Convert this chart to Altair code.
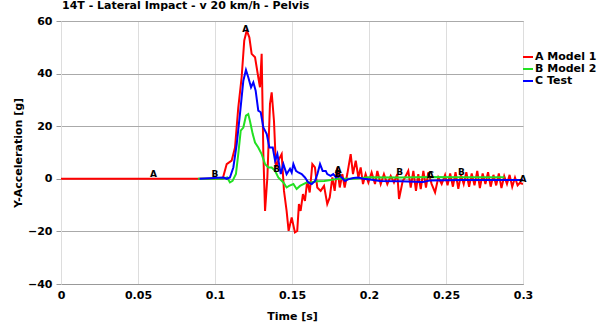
import altair as alt
import numpy as np
import pandas as pd

# Model 1 (red)
m1_t = [0, 0.06, 0.105, 0.1076, 0.1108, 0.113, 0.1151, 0.1173, 0.119, 0.1206, 0.1223, 0.1238, 0.126,
        0.1281, 0.1292, 0.1303, 0.1314, 0.1325, 0.134, 0.1357, 0.1368, 0.1383, 0.1396, 0.1411, 0.1433,
        0.1448, 0.1465, 0.1478, 0.1498, 0.1519, 0.1534, 0.1545, 0.1556, 0.1571, 0.1584, 0.1599, 0.1615,
        0.1632, 0.1649, 0.1664, 0.1686, 0.1708, 0.1729, 0.1745, 0.1762, 0.1777, 0.1794, 0.181, 0.1827,
        0.1842, 0.1859, 0.1881, 0.1896, 0.1914, 0.1931, 0.1946, 0.1961, 0.1978, 0.1996, 0.2017, 0.2039,
        0.2054, 0.2076, 0.2097, 0.2119, 0.2141, 0.2162, 0.2184, 0.2195, 0.2219, 0.2234, 0.2255, 0.2271,
        0.2288, 0.2305, 0.232, 0.2336, 0.2353, 0.237, 0.2385, 0.2407, 0.2429, 0.245, 0.2472, 0.2494,
        0.251, 0.2527, 0.2545, 0.2562, 0.258, 0.2597, 0.2615, 0.2632, 0.265, 0.2667, 0.2685, 0.2703,
        0.272, 0.2738, 0.2756, 0.2773, 0.279, 0.2808, 0.2826, 0.2843, 0.286, 0.2878, 0.2896, 0.2913,
        0.293, 0.2948, 0.2965, 0.298, 0.3]
m1_y = [0, 0, 0, 5.6, 6.9, 11.9, 27, 38.6, 52.6, 56.4, 53.8, 47.5, 46.2,
        38.6, 34.8, 47.5, 9.4, -12.2, 0.5, 28.4, 32.9, 22, 4.3, 6.9, 9.4,
        -4.6, -12.2, -19.8, -14.7, -20.4, -19.8, -9.6, -12.2, -5.8, -8.4, -0.8, -5.2,
        5.6, 4.3, -3.3, -4.6, -2.7, -9.6, -7.1, 0.5, -4.6, 4.3, -3.3, 1.8,
        -3.3, 1.8, 9.4, 1.8, 6.9, 0.5, 4.3, -2, 1.8, -1.4, 2.4, -2,
        3, -2, 1.8, -2, 1.1, -1.4, 1.8, -7.7, -0.8, 0.5, 3, -3.3,
        3, -4.6, 1.8, -3.9, 3, -3.3, 2.4, -2, -5.2, 0.5, -2, 1.5,
        -2.5, 2, -3, 2.5, -3.8, 1.5, -2, 2.5, -3, 2, -2.5, 3,
        -3.5, 2, -2, 2.5, -3, 1.5, -2.5, 2, -3.5, 1, -2, 1.5,
        -3, 0.5, -2.5, -1.5, -2]

# Model 2 (green)
m2_t = [0.089, 0.105, 0.1079, 0.1097, 0.1114, 0.1136, 0.1151, 0.1167, 0.1184, 0.1201, 0.1216, 0.1227,
        0.1245, 0.126, 0.1281, 0.1303, 0.1325, 0.1346, 0.1368, 0.139, 0.1411, 0.1444, 0.1465, 0.1481,
        0.1509, 0.153, 0.1552, 0.1574, 0.1595, 0.1623, 0.1661, 0.171, 0.18, 0.19, 0.2, 0.22, 0.24,
        0.26, 0.288]
m2_y = [0, 0, 0.5, -1.4, -0.8, 1.8, 9.4, 18.3, 19.5, 24, 24.6, 22,
        17, 13.8, 11.9, 9.4, 5.6, 4.3, 4.3, 3, 0.5, -1.4, -3.3, -2.7,
        -2, -3.9, -2.7, -2, -1.4, -1.4, -0.9, -0.8, 0, 0, 0.6, 0.5, 0.7,
        0.6, 0.6]

# Test (blue)
te_t = [0.09, 0.1054, 0.1076, 0.1097, 0.1119, 0.1141, 0.1162, 0.1184, 0.1201, 0.1216, 0.1234, 0.1249,
        0.1264, 0.1281, 0.1297, 0.1314, 0.1336, 0.1353, 0.1375, 0.139, 0.1405, 0.1427, 0.1444, 0.1465,
        0.1487, 0.1498, 0.1509, 0.1526, 0.1541, 0.1563, 0.1584, 0.1606, 0.1628, 0.165, 0.1665, 0.1682,
        0.1699, 0.1719, 0.1729, 0.1751, 0.1768, 0.1786, 0.1807, 0.1823, 0.1844, 0.1864, 0.1898, 0.1931,
        0.1963, 0.2006, 0.2071, 0.22, 0.235, 0.24, 0.26, 0.3]
te_y = [0, 0.5, 0, 0.5, 4.3, 13.2, 24.6, 37.3, 41.4, 38.6, 34.8, 36.7,
        33.5, 25.9, 25.3, 19.5, 17, 11.9, 11.9, 6.9, 9.4, 1.8, 5.6, 1.8,
        3.8, 2.4, 5.6, 3, 2.4, 1.8, 0.5, -1.4, -2, -0.8, 1.8, 5.6,
        3, 3, 1.8, 1.1, 1.8, 0.5, 1.1, 0.5, -0.8, -0.2, 0.3, 0.5,
        0, -0.3, -0.8, -0.9, -1.2, -0.6, -0.5, -0.5]

series_names = ["A Model 1", "B Model 2", "C Test"]
series_colors = ["#ff0000", "#22e022", "#0000ff"]

# label marker times per series
label_a_t = [0.06, 0.12, 0.18, 0.24, 0.3]
label_b_t = [0.1, 0.14, 0.18, 0.22, 0.26]
label_c_t = [0.24]

frames = []
for name, t, y, order in [(series_names[0], m1_t, m1_y, 0),
                          (series_names[1], m2_t, m2_y, 1),
                          (series_names[2], te_t, te_y, 2)]:
    frames.append(pd.DataFrame({"t": t, "y": y, "series": name, "ord": order}))
df = pd.concat(frames, ignore_index=True)

lab_rows = []
for letter, times, t, y in [("A", label_a_t, m1_t, m1_y), ("B", label_b_t, m2_t, m2_y), ("C", label_c_t, te_t, te_y)]:
    for tt in times:
        lab_rows.append({"t": tt, "y": float(np.interp(tt, t, y)), "letter": letter})
labels = pd.DataFrame(lab_rows)

FONT = "DejaVu Sans"

x = alt.X("t:Q", title="Time [s]",
          scale=alt.Scale(domain=[0, 0.3], nice=False),
          axis=alt.Axis(values=[0, 0.05, 0.1, 0.15, 0.2, 0.25, 0.3], format="~g",
                        gridColor="#dddddd", tickSize=0, labelPadding=5, titlePadding=10,
                        labelFlush=False, domainColor="#999999"))
y = alt.Y("y:Q", title="Y-Acceleration [g]",
          scale=alt.Scale(domain=[-40, 60], nice=False),
          axis=alt.Axis(values=[-40, -20, 0, 20, 40, 60], gridColor="#aaaaaa",
                        tickSize=5, tickColor="#999999", labelPadding=4,
                        labelFlush=False, domainColor="#dddddd", titlePadding=4))

lines = alt.Chart(df).mark_line(strokeWidth=2, clip=True).encode(
    x=x, y=y,
    color=alt.Color("series:N",
                    scale=alt.Scale(domain=series_names, range=series_colors),
                    legend=alt.Legend(title=None, orient="none", legendX=461, legendY=30,
                                      symbolType="stroke", symbolSize=100, symbolStrokeWidth=2,
                                      labelOffset=1, labelFont=FONT, labelFontSize=11,
                                      labelFontWeight="bold", labelColor="black", rowPadding=1)),
    order="t:Q",
    detail="ord:N",
)

texts = alt.Chart(labels).mark_text(font=FONT, fontSize=9, fontWeight="bold", color="black",
                                    dy=-5, align="center").encode(
    x="t:Q", y="y:Q", text="letter:N")

chart = alt.layer(lines, texts).properties(
    width=462, height=263,
    title=alt.TitleParams("14T - Lateral Impact - v 20 km/h - Pelvis", anchor="start",
                          frame="group", font=FONT, fontSize=11, fontWeight="bold",
                          color="black", offset=4, dx=1),
    autosize=alt.AutoSizeParams(type="none"),
    padding={"left": 61, "top": 21, "right": 80, "bottom": 38},
).configure_axis(
    labelFont=FONT, labelFontSize=11, labelFontWeight="bold", labelColor="black",
    titleFont=FONT, titleFontSize=11, titleFontWeight="bold", titleColor="black",
).configure_view(stroke="#999999")

chart.save("out.html", embed_options={"renderer": "svg", "actions": False})
